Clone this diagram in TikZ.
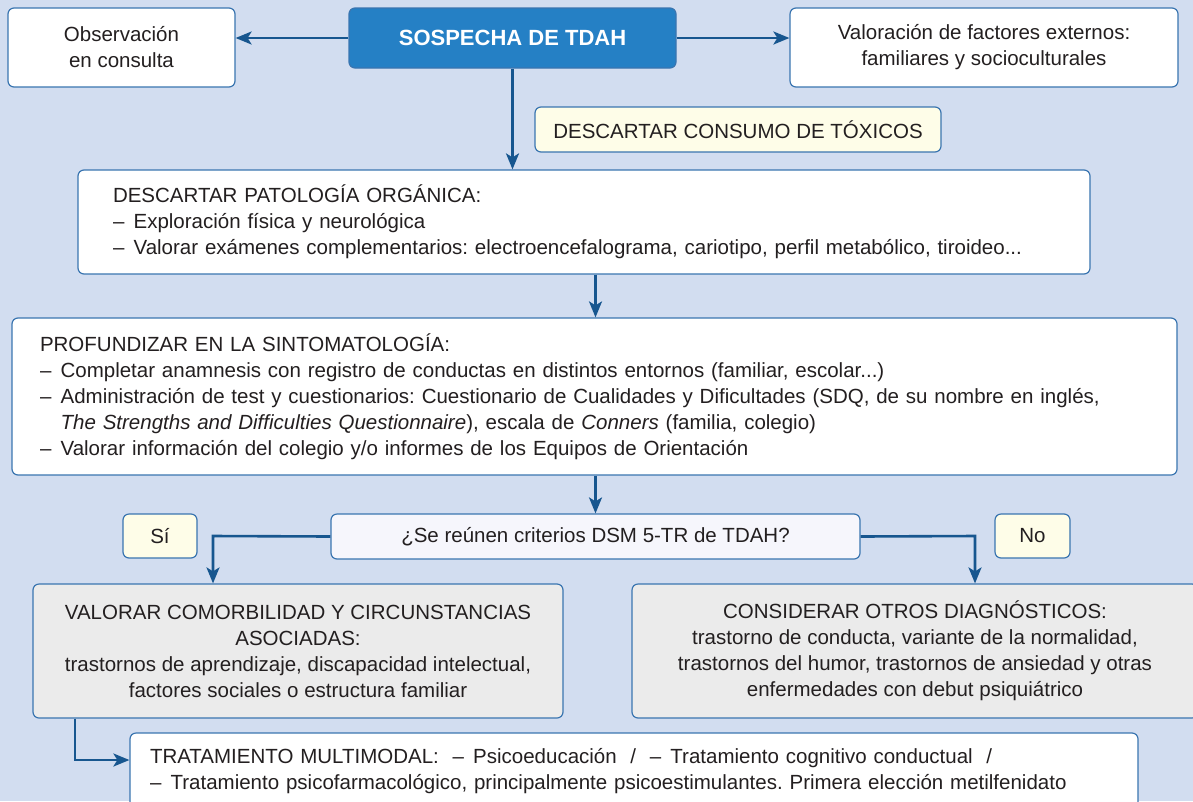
\documentclass[tikz,border=0pt]{standalone}
\usepackage{fontspec}
\setmainfont{Liberation Sans}
\usetikzlibrary{arrows.meta}
\frenchspacing

\definecolor{fondo}{RGB}{210,221,240}
\definecolor{azul}{RGB}{37,128,197}
\definecolor{borde}{RGB}{58,117,176}
\definecolor{flecha}{RGB}{23,86,143}
\definecolor{crema}{RGB}{254,253,232}
\definecolor{lila}{RGB}{246,246,252}
\definecolor{gris}{RGB}{235,235,235}
\definecolor{texto}{RGB}{35,31,32}

\newcommand{\guion}{–\hspace{0.45em}}

\tikzset{
  caja/.style={draw=borde, line width=1.2pt, rounded corners=6pt, fill=white,
    text=texto, inner sep=0pt, font=\fontsize{20.5}{26}\selectfont},
  principal/.style={caja, fill=azul, text=white,
    font=\fontsize{22}{26}\selectfont\bfseries},
  aviso/.style={caja, fill=crema},
  pregunta/.style={caja, fill=lila},
  diagnostico/.style={caja, fill=gris, align=center},
  flechaazul/.style={draw=flecha, line width=2.6pt,
    -{Stealth[length=16pt 0,width=13pt 0,inset=4pt]}},
}

\begin{document}
\begin{tikzpicture}[x=1pt,y=-1pt]
  \useasboundingbox (0,0) rectangle (1193,801);
  \fill [fondo] (0,0) rectangle (1193,801);

  \node [principal, minimum width=327pt, minimum height=60pt] (sospecha) at (512.5,38) {SOSPECHA DE TDAH};
  \node [caja, minimum width=227pt, minimum height=79pt, align=center] (observacion) at (121.5,47.5) {Observación\\en consulta};
  \node [caja, minimum width=388pt, minimum height=79pt, align=center] (externos) at (984,47.5) {Valoración de factores externos:\\familiares y socioculturales};
  \node [aviso, minimum width=406pt, minimum height=45pt] (toxicos) at (738,129.5) {DESCARTAR CONSUMO DE TÓXICOS};

  \node [caja, minimum width=1012pt, minimum height=104pt, inner xsep=35pt, text width=942pt, align=left] (organica) at (584,222)
    {DESCARTAR PATOLOGÍA ORGÁNICA:\\
     \guion Exploración física y neurológica\\
     \guion Valorar exámenes complementarios: electroencefalograma, cariotipo, perfil metabólico, tiroideo...};

  \node [caja, minimum width=1165pt, minimum height=157pt, inner xsep=28pt, text width=1109pt, align=left] (profundizar) at (594.5,396.5)
    {PROFUNDIZAR EN LA SINTOMATOLOGÍA:\\
     \guion Completar anamnesis con registro de conductas en distintos entornos (familiar, escolar...)\\
     \guion Administración de test y cuestionarios: Cuestionario de Cualidades y Dificultades (SDQ, de su nombre en inglés,\\
     \phantom{\guion}\textit{The Strengths and Difficulties Questionnaire}), escala de \textit{Conners} (familia, colegio)\\
     \guion Valorar información del colegio y/o informes de los Equipos de Orientación};

  \node [pregunta, minimum width=529pt, minimum height=45pt] (criterios) at (595.5,536.5) {¿Se reúnen criterios DSM 5-TR de TDAH?};
  \node [aviso, minimum width=74pt, minimum height=44pt] (si) at (160,536) {Sí};
  \node [aviso, minimum width=75pt, minimum height=44pt] (no) at (1032.5,536) {No};

  \node [diagnostico, minimum width=530pt, minimum height=134pt] (comorbilidad) at (298,651)
    {VALORAR COMORBILIDAD Y CIRCUNSTANCIAS\\ASOCIADAS:\\trastornos de aprendizaje, discapacidad intelectual,\\factores sociales o estructura familiar};
  \node [diagnostico, minimum width=566pt, minimum height=134pt] (otros) at (915,651)
    {CONSIDERAR OTROS DIAGNÓSTICOS:\\trastorno de conducta, variante de la normalidad,\\trastornos del humor, trastornos de ansiedad y otras\\enfermedades con debut psiquiátrico};

  \node [caja, minimum width=1008pt, minimum height=77pt, inner xsep=20pt, text width=968pt, align=left] (tratamiento) at (634,771.5)
    {TRATAMIENTO MULTIMODAL:\ \ \guion Psicoeducación\ \ /\ \ \guion Tratamiento cognitivo conductual\ \ /\\
     \guion Tratamiento psicofarmacológico, principalmente psicoestimulantes. Primera elección metilfenidato};

  \coordinate (ramasi) at (213,536);
  \coordinate (ramano) at (975,536);
  \coordinate (ramatrat) at (75,760);

  \draw [flechaazul] (sospecha.west) -- (observacion.east |- sospecha.west);
  \draw [flechaazul] (sospecha.east) -- (externos.west |- sospecha.east);
  \draw [flechaazul] (sospecha.south) -- (sospecha.south |- organica.north);
  \draw [flechaazul] (organica.south -| criterios.north) -- (profundizar.north -| criterios.north);
  \draw [flechaazul] (profundizar.south -| criterios.north) -- (criterios.north);
  \draw [flechaazul] (criterios.west) -- (ramasi) -- (ramasi |- comorbilidad.north);
  \draw [flechaazul] (criterios.east) -- (ramano) -- (ramano |- otros.north);
  \draw [flechaazul] (comorbilidad.south -| ramatrat) -- (ramatrat) -- (ramatrat -| tratamiento.west);
\end{tikzpicture}
\end{document}
